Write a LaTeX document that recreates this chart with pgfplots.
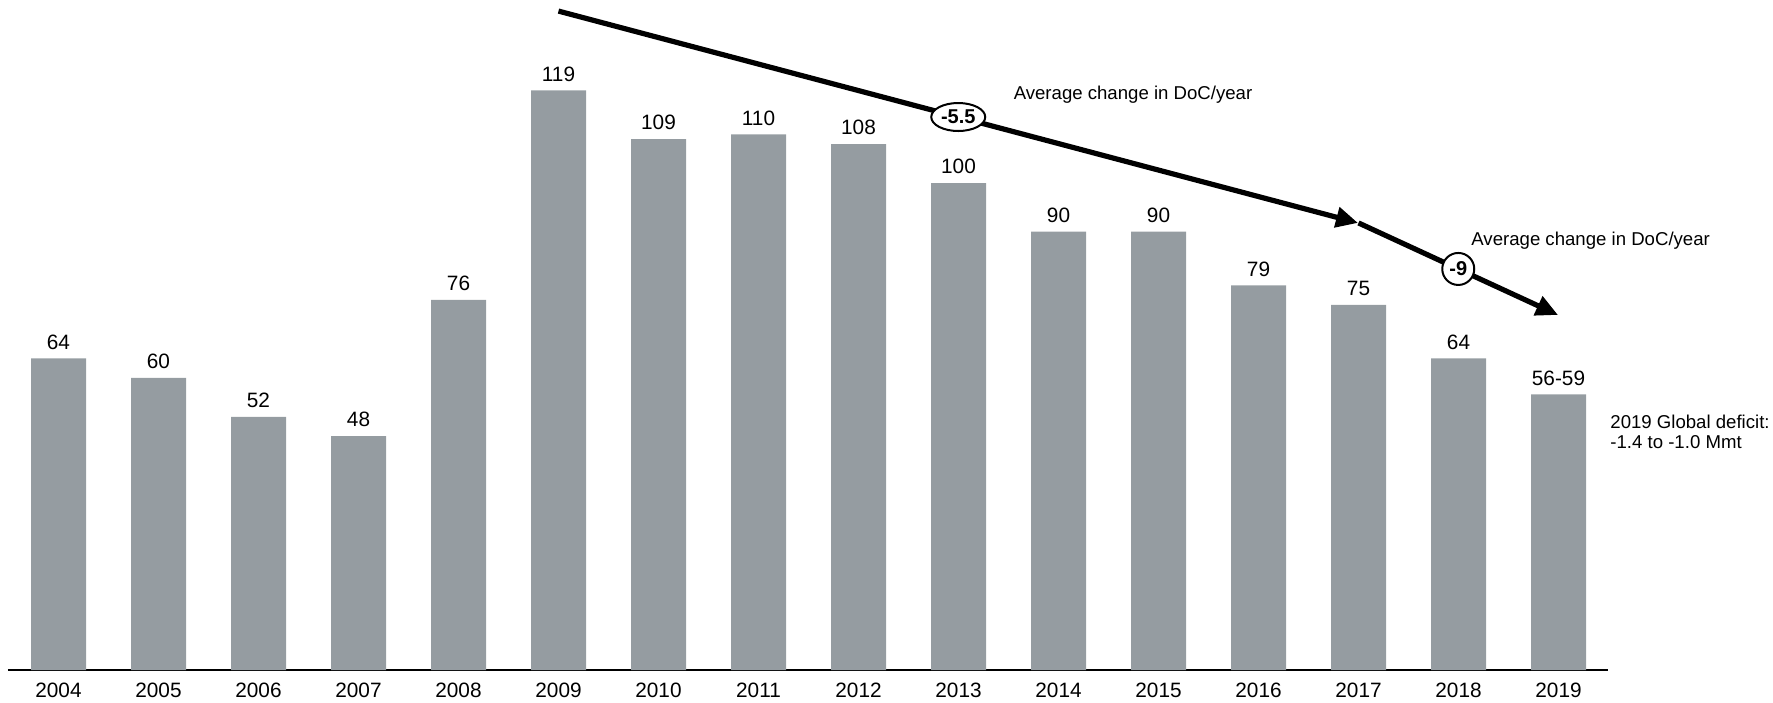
\documentclass[border=0pt]{standalone}
\usepackage{pgfplots}
\pgfplotsset{compat=1.18}
\usepackage{pgfplotstable}
\usepackage{fontspec}
\setmainfont{Liberation Sans}
\usetikzlibrary{arrows.meta,shapes.geometric}

\definecolor{bargray}{RGB}{149,156,161}

% year, value, label
\pgfplotstableread{
year value label
2004 64 64
2005 60 60
2006 52 52
2007 48 48
2008 76 76
2009 119 119
2010 109 109
2011 110 110
2012 108 108
2013 100 100
2014 90 90
2015 90 90
2016 79 79
2017 75 75
2018 64 64
2019 56.6 56-59
}\deficit

\begin{document}
\begin{tikzpicture}
\begin{axis}[
    x=50pt, y=2.435pt,
    xmin=2003.495, xmax=2019.495,
    ymin=0, ymax=137,
    axis x line*=bottom,
    axis y line=none,
    x axis line style={line width=0.8pt},
    xtick=data,
    major tick length=0pt,
    xticklabel style={/pgf/number format/.cd, 1000 sep={}, assume math mode=true},
    ticklabel style={font=\fontsize{10.4}{12}\selectfont, inner sep=0pt, anchor=north, yshift=-6.5pt},
    ybar, bar width=27.5pt,
    clip=false,
    nodes near coords,
    point meta=explicit symbolic,
    every node near coord/.append style={font=\fontsize{10.4}{12}\selectfont, anchor=south, black, yshift=1pt},
]
\addplot[fill=bargray, draw=none] table[x=year, y=value, meta=label] {\deficit};

% trend arrows
\draw[line width=2.6pt, -{Triangle[length=11pt,width=10pt]}]
    (axis cs:2009,135.3) -- (axis cs:2016.995,91.8)
    node[midway, ellipse, draw, line width=1pt, fill=white, inner sep=0pt,
         minimum width=27pt, minimum height=14pt,
         font=\fontsize{10}{12}\bfseries] {-5.5};
\draw[line width=2.6pt, -{Triangle[length=11pt,width=10pt]}]
    (axis cs:2017,91.8) -- (axis cs:2018.995,72.9)
    node[midway, circle, draw, line width=1pt, fill=white, inner sep=0pt,
         minimum size=16pt,
         font=\fontsize{10}{12}\bfseries] {-9};

\node[font=\fontsize{9.3}{11}\selectfont] at (axis cs:2014.745,118.1) {Average change in DoC/year};
\node[font=\fontsize{9.3}{11}\selectfont, anchor=west, inner sep=0pt] at (axis cs:2018.125,88.1) {Average change in DoC/year};
\node[font=\fontsize{9.3}{10}\selectfont, anchor=west, align=left, inner sep=0pt] at (axis cs:2019.515,48.85)
    {2019 Global deficit:\\-1.4 to -1.0 Mmt};

\coordinate (bbSW) at (axis cs:2003.415,-6.57);
\coordinate (bbNE) at (axis cs:2021.145,137.58);
\end{axis}
\pgfresetboundingbox
\path[use as bounding box] (bbSW) rectangle (bbNE);
\end{tikzpicture}
\end{document}
